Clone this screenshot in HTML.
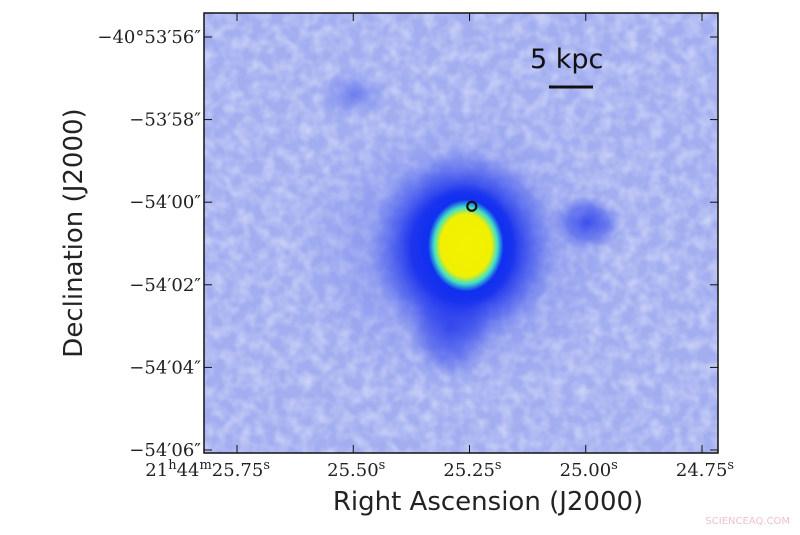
<!DOCTYPE html>
<html><head><meta charset="utf-8">
<style>
body{margin:0;background:#fff;width:800px;height:530px;overflow:hidden}
svg text{font-family:"DejaVu Serif","Liberation Serif",serif;fill:#222}
</style></head>
<body>
<svg id="chart" width="800" height="530">
<defs>
<radialGradient id="g-core"><stop offset="0" stop-color="#f4f200"/><stop offset="0.5" stop-color="#f0f000"/><stop offset="0.62" stop-color="#40e0c8"/><stop offset="0.74" stop-color="#1030f0"/><stop offset="1" stop-color="#1030f0" stop-opacity="0"/></radialGradient>
<radialGradient id="g-dark"><stop offset="0" stop-color="#1026ee"/><stop offset="0.55" stop-color="#1830ee" stop-opacity="0.95"/><stop offset="1" stop-color="#3a4eee" stop-opacity="0"/></radialGradient>
<radialGradient id="g-tail"><stop offset="0" stop-color="#2a3eec" stop-opacity="0.85"/><stop offset="0.6" stop-color="#3448ec" stop-opacity="0.5"/><stop offset="1" stop-color="#5060ec" stop-opacity="0"/></radialGradient>
<radialGradient id="g-halo"><stop offset="0" stop-color="#5a6cec" stop-opacity="0.8"/><stop offset="1" stop-color="#7080ee" stop-opacity="0"/></radialGradient>
<filter id="noise" x="0" y="0" width="100%" height="100%"><feTurbulence type="fractalNoise" baseFrequency="0.08" numOctaves="2" seed="3"/><feColorMatrix type="matrix" values="0 0 0 0 0.9  0 0 0 0 0.92  0 0 0 0 1  0 0 0 -1.6 1.05"/></filter>
<clipPath id="clip"><rect x="204" y="13" width="514" height="440"/></clipPath>
</defs>
<g clip-path="url(#clip)">
<rect x="204" y="13" width="514" height="440" fill="#a2aef0"/>
<rect x="204" y="13" width="514" height="440" filter="url(#noise)" opacity="0.55"/>
<g id="img"></g>
</g>
<rect x="204" y="13" width="514" height="440" fill="none" stroke="#111" stroke-width="1.5"/>
<g id="axes"></g>
<text x="530" y="68" style="font-family:'DejaVu Sans',sans-serif;fill:#111" font-size="27">5 kpc</text>
<line x1="549" y1="87" x2="593" y2="87" stroke="#111" stroke-width="3"/>
<text x="488" y="510" text-anchor="middle" font-size="26" style="font-family:'DejaVu Sans',sans-serif">Right Ascension (J2000)</text>
<text transform="translate(82,233) rotate(-90)" text-anchor="middle" font-size="26" style="font-family:'DejaVu Sans',sans-serif">Declination (J2000)</text>
<text x="790" y="524" text-anchor="end" font-size="10" style="fill:#f0c0d0;font-family:'DejaVu Sans',sans-serif">SCIENCEAQ.COM</text>
</svg>
<script>
const xTickVals=[25.75,25.50,25.25,25.00,24.75];
const xTickLabels=["25.75","25.50","25.25","25.00","24.75"];
const yTickVals=[-56,-58,-60,-62,-64,-66];
const yTickLabels=["\u221240\u00b053\u203256\u2033","\u221253\u203258\u2033","\u221254\u203200\u2033","\u221254\u203202\u2033","\u221254\u203204\u2033","\u221254\u203206\u2033"];
// emission components: RA (s), Dec offset (arcsec), semi-axes (s, arcsec), gradient
const srcRA=[25.28,25.50,25.29,25.265,24.995,25.258];
const srcDec=[-61.2,-57.4,-63.0,-61.1,-60.5,-61.05];
const srcRX=[0.34,0.08,0.09,0.2,0.075,0.11];
const srcRY=[3.4,0.6,1.3,2.4,0.65,1.5];
const srcGrad=["g-halo","g-halo","g-tail","g-dark","g-tail","g-core"];
const markerRA=25.245, markerDec=-60.1;
const ns="http://www.w3.org/2000/svg";
const x=v=>237+(25.75-v)/0.25*116.25;
const y=v=>37+(-56-v)/2*82.6;
const sx=d=>d/0.25*116.25, sy=d=>d/2*82.6;
const img=document.getElementById('img'),ax=document.getElementById('axes');
srcRA.forEach((r,i)=>{const e=document.createElementNS(ns,'ellipse');


e.setAttribute('cx',x(r));e.setAttribute('cy',y(srcDec[i]));e.setAttribute('rx',sx(srcRX[i]));e.setAttribute('ry',sy(srcRY[i]));
e.setAttribute('fill','url(#'+srcGrad[i]+')');img.appendChild(e);});
const m=document.createElementNS(ns,'circle');


m.setAttribute('cx',x(markerRA));m.setAttribute('cy',y(markerDec));m.setAttribute('r',4.5);m.setAttribute('fill','none');m.setAttribute('stroke','#111');m.setAttribute('stroke-width',2.2);img.appendChild(m);
xTickVals.forEach((v,i)=>{const px=x(v);
[[453,-8],[13,8]].forEach(([b,d])=>{const l=document.createElementNS(ns,'line');


l.setAttribute('x1',px);l.setAttribute('x2',px);l.setAttribute('y1',b);l.setAttribute('y2',b+d);l.setAttribute('stroke','#111');ax.appendChild(l);});
const t=document.createElementNS(ns,'text');


t.setAttribute('y',476);t.setAttribute('font-size',18);
if(i===0){t.setAttribute('x',270);t.setAttribute('text-anchor','end');t.innerHTML='21<tspan dy="-7" font-size="13">h</tspan><tspan dy="7">44</tspan><tspan dy="-7" font-size="13">m</tspan><tspan dy="7">'+xTickLabels[i]+'</tspan><tspan dy="-7" font-size="13">s</tspan>';}
else{t.setAttribute('x',px+3);t.setAttribute('text-anchor','middle');t.innerHTML=xTickLabels[i]+'<tspan dy="-7" font-size="13">s</tspan>';}
ax.appendChild(t);});
yTickVals.forEach((v,i)=>{const py=y(v);
[[204,8],[718,-8]].forEach(([b,d])=>{const l=document.createElementNS(ns,'line');


l.setAttribute('x1',b);l.setAttribute('x2',b+d);l.setAttribute('y1',py);l.setAttribute('y2',py);l.setAttribute('stroke','#111');ax.appendChild(l);});
const t=document.createElementNS(ns,'text');


t.setAttribute('x',201);t.setAttribute('y',py+6);t.setAttribute('font-size',18);t.setAttribute('text-anchor','end');t.textContent=yTickLabels[i];ax.appendChild(t);});
</script>
</body></html>
